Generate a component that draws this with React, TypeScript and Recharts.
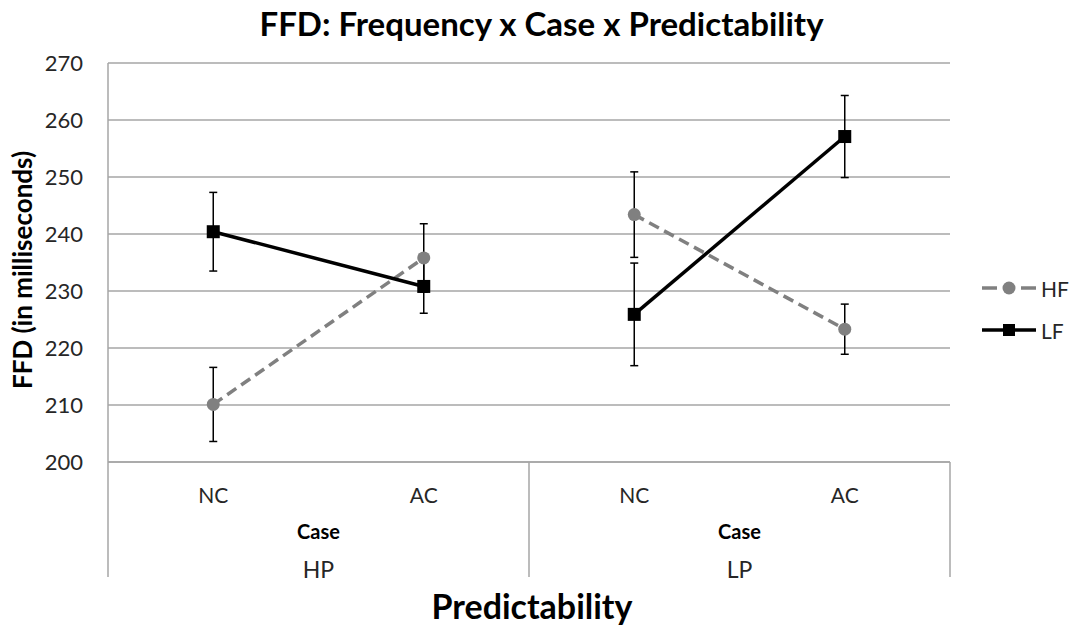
import React from 'react';
import { CartesianGrid, ErrorBar, Line, LineChart, XAxis, YAxis } from 'recharts';

// categories
const groups = ['HP', 'HP', 'LP', 'LP'];
const cases = ['NC', 'AC', 'NC', 'AC'];
const groupNames = ['HP', 'LP'];

// series (FFD in ms) and error bar half-lengths
const hf = [210.1, 235.8, 243.4, 223.3];
const hfErr = [6.5, 6.0, 7.5, 4.4];
const lf = [240.4, 230.8, 225.9, 257.1];
const lfErr = [6.9, 4.7, 9.0, 7.2];

const yTicks = [200, 210, 220, 230, 240, 250, 260, 270];

const FONT = 'Lato, "Open Sans", sans-serif';
const TEXT = '#262626';
const GRID = '#a6a6a6';

// one row per category, lines split per predictability group so they don't join across groups
const data = cases.map((c, i) => {
    const row: Record<string, any> = { key: groups[i] + ' ' + c };
    groupNames.forEach(g => {
        const on = groups[i] === g;
        row['hf' + g] = on ? hf[i] : null;
        row['hf' + g + 'Err'] = on ? hfErr[i] : null;
        row['lf' + g] = on ? lf[i] : null;
        row['lf' + g + 'Err'] = on ? lfErr[i] : null;
    });
    return row;
});

const CircleDot = (p: any) => {
    if (p.cx == null || p.cy == null || p.value == null) return <g key={p.index} />;
    return <circle key={p.index} cx={p.cx} cy={p.cy} r={6.5} fill='#808080' />;
};

const SquareDot = (p: any) => {
    if (p.cx == null || p.cy == null || p.value == null) return <g key={p.index} />;
    return <rect key={p.index} x={p.cx - 6.5} y={p.cy - 6.5} width={13} height={13} fill='#000' />;
};

// two-level category axis: case labels, then "Case" + predictability group, with divider lines
function CaseTick(props: any) {
    const { x, y, payload } = props;
    const i = payload.index ?? props.index;
    const half = payload.offset || 105;
    const first = i === 0 || groups[i] !== groups[i - 1];
    const last = i === groups.length - 1;
    const count = groups.filter(g => g === groups[i]).length;
    const start = x - half;
    const center = start + count * half;
    return (
        <g>
            <text x={x} y={y + 32} textAnchor='middle' dominantBaseline='central'
                  fontFamily={FONT} fontSize={21} fill={TEXT}>{cases[i]}</text>
            {first && (
                <g>
                    <line x1={start} x2={start} y1={y} y2={y + 115} stroke={GRID} strokeWidth={1.5} />
                    <text x={center} y={y + 69} textAnchor='middle' dominantBaseline='central'
                          fontFamily={FONT} fontSize={20} fontWeight='bold' fill='#000'>Case</text>
                    <text x={center} y={y + 107} textAnchor='middle' dominantBaseline='central'
                          fontFamily={FONT} fontSize={23} fill={TEXT}>{groups[i]}</text>
                </g>
            )}
            {last && <line x1={x + half} x2={x + half} y1={y} y2={y + 115} stroke={GRID} strokeWidth={1.5} />}
        </g>
    );
}

export default function App() {
    return (
        <div style={{ position: 'absolute', left: 0, top: 0, width: 1077, height: 630, background: '#fff' }}>
            <div style={{ position: 'absolute', left: 0, top: 3, width: 1083, textAlign: 'center',
                fontFamily: FONT, fontWeight: 'bold', fontSize: 33, color: '#000' }}>
                FFD: Frequency x Case x Predictability
            </div>
            <div style={{ position: 'absolute', left: 22, top: 270, width: 0, height: 0 }}>
                <div style={{ position: 'absolute', transform: 'translate(-50%, -50%) rotate(-90deg)',
                    whiteSpace: 'nowrap', fontFamily: FONT, fontWeight: 'bold', fontSize: 26, color: '#000' }}>
                    FFD (in milliseconds)
                </div>
            </div>
            <div style={{ position: 'absolute', left: 332, top: 585, width: 400, textAlign: 'center',
                fontFamily: FONT, fontWeight: 'bold', fontSize: 34, color: '#000' }}>
                Predictability
            </div>

            <LineChart width={1077} height={630} data={data}
                       margin={{ top: 63, right: 127, left: 60, bottom: 0 }}>
                <CartesianGrid vertical={false} stroke={GRID} strokeWidth={1.5} />
                <XAxis dataKey='key' scale='band' height={168} stroke={GRID} strokeWidth={1.5}
                       tickLine={false} tickSize={0} tickMargin={0} interval={0} tick={<CaseTick />} />
                <YAxis domain={[200, 270]} ticks={yTicks} width={48} stroke={GRID} strokeWidth={1.5}
                       tickLine={false} tickSize={0} tickMargin={25}
                       tick={{ fontFamily: FONT, fontSize: 22, fill: TEXT }} />
                {groupNames.map(g => (
                    <Line key={'hf' + g} dataKey={'hf' + g} stroke='#808080' strokeWidth={3.5}
                          strokeDasharray='11 6' dot={CircleDot} activeDot={false}
                          isAnimationActive={false}>
                        <ErrorBar dataKey={'hf' + g + 'Err'} width={4} stroke='#000' strokeWidth={1.5}
                                  direction='y' isAnimationActive={false} />
                    </Line>
                ))}
                {groupNames.map(g => (
                    <Line key={'lf' + g} dataKey={'lf' + g} stroke='#000' strokeWidth={3.5}
                          dot={SquareDot} activeDot={false} isAnimationActive={false}>
                        <ErrorBar dataKey={'lf' + g + 'Err'} width={4} stroke='#000' strokeWidth={1.5}
                                  direction='y' isAnimationActive={false} />
                    </Line>
                ))}
            </LineChart>

            <svg style={{ position: 'absolute', left: 975, top: 270 }} width={102} height={80}>
                <line x1={7} x2={22} y1={18} y2={18} stroke='#808080' strokeWidth={3.5} />
                <line x1={46} x2={61} y1={18} y2={18} stroke='#808080' strokeWidth={3.5} />
                <circle cx={34} cy={18} r={6.5} fill='#808080' />
                <text x={66} y={18} dominantBaseline='central' fontFamily={FONT} fontSize={21} fill={TEXT}>HF</text>
                <line x1={7} x2={61} y1={60} y2={60} stroke='#000' strokeWidth={3.5} />
                <rect x={28} y={54} width={12} height={12} fill='#000' />
                <text x={66} y={60} dominantBaseline='central' fontFamily={FONT} fontSize={21} fill={TEXT}>LF</text>
            </svg>
        </div>
    );
}
